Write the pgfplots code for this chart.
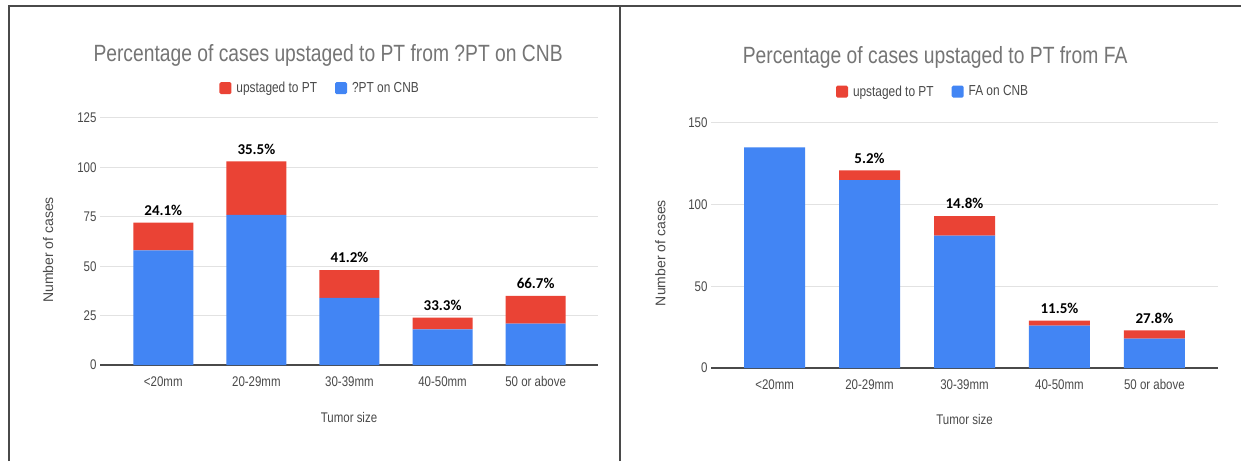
\documentclass[border=0pt]{standalone}
\usepackage{fontspec}
\setmainfont{Liberation Sans}[FakeStretch=0.82]
\newfontfamily\plainfont{Liberation Sans}
\newfontfamily\pctfont{Carlito}
\usepackage{pgfplots}
\pgfplotsset{compat=1.18}

\definecolor{gred}{HTML}{EA4335}
\definecolor{gblue}{HTML}{4285F4}
\definecolor{gridc}{HTML}{E2E2E2}
\definecolor{titlec}{HTML}{757575}
\definecolor{tickc}{HTML}{4A4A4A}
\definecolor{framec}{HTML}{4A4A4A}

\tikzset{pct/.style={anchor=south, yshift=7pt, inner sep=0pt, text=black,
    font=\pctfont\bfseries\fontsize{15}{17}\selectfont}}

\pgfplotsset{
  sheetbar/.style={
    scale only axis,
    ybar stacked,
    bar width=60pt,
    xmin=-0.68, xmax=4.67,
    ymin=0,
    xtick={0,...,4},
    xticklabels={<20mm,20-29mm,30-39mm,40-50mm,50 or above},
    ymajorgrids,
    grid style={gridc, line width=1pt},
    axis x line*=bottom, axis y line*=left,
    y axis line style={draw=none},
    x axis line style={draw=tickc, line width=1.2pt, -},
    major tick length=0pt,
    tick label style={font=\fontsize{14}{16}\selectfont, text=tickc},
    /pgf/number format/assume math mode=true,
    xticklabel style={anchor=base, yshift=-21pt},
    yticklabel style={anchor=east, xshift=0pt},
    xlabel={Tumor size},
    ylabel={Number of cases},
    xlabel style={at={(axis description cs:0.5,-0.212)}, anchor=center,
      font=\fontsize{14}{16}\selectfont, text=tickc},
    ylabel style={font=\plainfont\fontsize{14}{16}\selectfont, text=tickc, anchor=center},
    title style={font=\fontsize{23.5}{26}\selectfont, text=titlec, anchor=center},
    legend style={draw=none, fill=none, legend columns=-1, anchor=center,
      font=\fontsize{14.5}{16}\selectfont, text=tickc,
      /tikz/every odd column/.append style={column sep=3pt},
      /tikz/every even column/.append style={column sep=16pt}},
    legend image code/.code={\fill[##1, rounded corners=1.5pt] (0pt,-6pt) rectangle (12pt,6pt);},
    reverse legend,
  },
}

\begin{document}
\begin{tikzpicture}
\fill[white] (0,0) rectangle (1241pt,461pt);
\useasboundingbox (0,0) rectangle (1241pt,461pt);

% left chart
\begin{axis}[sheetbar,
  at={(100pt,96pt)}, anchor=south west,
  width=498pt, height=247pt,
  ymax=125, ytick={0,25,...,125},
  title={Percentage of cases upstaged to PT from ?PT on CNB},
  title style={at={(axis description cs:0.458,1.23)}},
  legend style={at={(axis description cs:0.442,1.121)}},
  ylabel style={at={(axis description cs:-0.104,0.466)}},
]
\addplot[fill=gblue, draw=none] coordinates {(0,58) (1,76) (2,34) (3,18) (4,21)};
\addlegendentry{?PT on CNB}
\addplot[fill=gred, draw=none] coordinates {(0,14) (1,27) (2,14) (3,6) (4,14)};
\addlegendentry{upstaged to PT}
\node[pct] at (axis cs:0,72) {24.1\%};
\node[pct] at (axis cs:1,103) {35.5\%};
\node[pct] at (axis cs:2,48) {41.2\%};
\node[pct] at (axis cs:3,24) {33.3\%};
\node[pct] at (axis cs:4,35) {66.7\%};
\end{axis}

% right chart
\begin{axis}[sheetbar,
  at={(711pt,93pt)}, anchor=south west,
  width=507pt, height=245pt,
  ymax=150, ytick={0,50,...,150},
  bar width=61pt,
  xmin=-0.67, xmax=4.67,
  title={Percentage of cases upstaged to PT from FA},
  title style={at={(axis description cs:0.442,1.242)}},
  legend style={at={(axis description cs:0.438,1.128)}},
  ylabel style={at={(axis description cs:-0.10,0.469)}},
]
\addplot[fill=gblue, draw=none] coordinates {(0,135) (1,115) (2,81) (3,26) (4,18)};
\addlegendentry{FA on CNB}
\addplot[fill=gred, draw=none] coordinates {(0,0) (1,6) (2,12) (3,3) (4,5)};
\addlegendentry{upstaged to PT}
\node[pct] at (axis cs:1,121) {5.2\%};
\node[pct] at (axis cs:2,93) {14.8\%};
\node[pct] at (axis cs:3,29) {11.5\%};
\node[pct] at (axis cs:4,23) {27.8\%};
\end{axis}

% table frame
\draw[framec, line width=1.8pt] (9pt,0) -- (9pt,455pt) -- (1241pt,455pt);
\draw[framec, line width=1.8pt] (620pt,0) -- (620pt,455pt);
\end{tikzpicture}
\end{document}
